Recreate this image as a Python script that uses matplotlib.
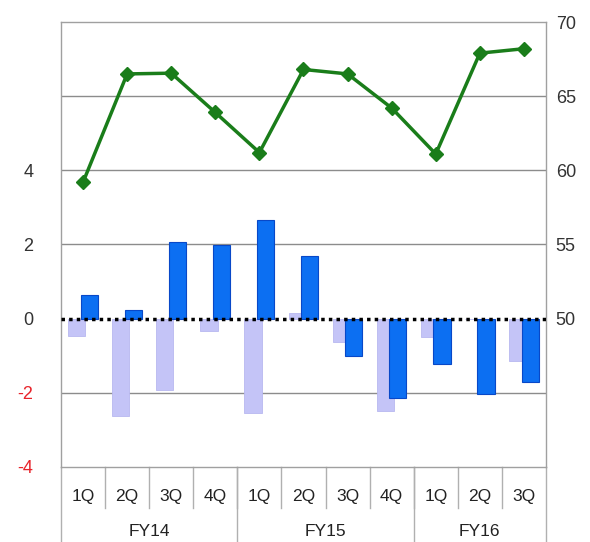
import matplotlib
matplotlib.use("Agg")
import matplotlib.pyplot as plt
import matplotlib.transforms as mtransforms
import numpy as np

plt.rcParams['font.family'] = ['Liberation Sans', 'DejaVu Sans']

quarters = ["1Q", "2Q", "3Q", "4Q", "1Q", "2Q", "3Q", "4Q", "1Q", "2Q", "3Q"]
years = ["FY14", "FY15", "FY16"]
year_sizes = [4, 4, 3]
light_vals = [-0.46, -2.63, -1.93, -0.34, -2.55, 0.15, -0.62, -2.49, -0.50, 0.0, -1.13]
blue_vals = [0.65, 0.24, 2.06, 1.99, 2.67, 1.69, -1.00, -2.13, -1.22, -2.04, -1.70]
line_vals = [59.2, 66.5, 66.55, 63.9, 61.2, 66.8, 66.5, 64.2, 61.1, 67.9, 68.2]
left_ticks = [-4, -2, 0, 2, 4]
right_ticks = [50, 55, 60, 65, 70]

fig = plt.figure(figsize=(5.9, 5.42), dpi=100)
ax = fig.add_axes([0.1034, 0.1384, 0.822, 0.821])
x = np.arange(len(quarters))

ax.set_xlim(-0.5, len(quarters) - 0.5)
ax.set_ylim(-4, 8)
for g in [-2, 2, 4, 6]:
    ax.axhline(g, color="#8c8c8c", lw=1.0, zorder=0)

ax.bar(x - 0.145, light_vals, width=0.39, color="#c4c4f7", edgecolor="#b8b8f0", lw=0.6, zorder=2)
ax.bar(x + 0.14, blue_vals, width=0.39, color="#0c6ff2", edgecolor="#0848c8", lw=0.8, zorder=3)
ax.axhline(0, color="black", lw=2.5, ls=(0, (1, 1.2)), zorder=4)

ax.set_yticks(left_ticks)
ax.set_yticklabels([str(t) for t in left_ticks], fontsize=13)
for lab, t in zip(ax.get_yticklabels(), left_ticks):
    lab.set_color("#e8242b" if t < 0 else "#333333")
ax.tick_params(axis="y", length=0, pad=20)

for s in ["left", "right", "top", "bottom"]:
    ax.spines[s].set_color("#a0a0a0")
    ax.spines[s].set_linewidth(1.0)

ax2 = ax.twinx()
ax2.set_ylim(40, 70)
ax2.plot(x, line_vals, color="#1a7d1a", lw=2.5, marker="D", markersize=7.5,
         markerfacecolor="#1a7d1a", markeredgecolor="#1a7d1a", zorder=5)
ax2.set_yticks(right_ticks)
ax2.set_yticklabels([str(t) for t in right_ticks], fontsize=13, color="#333333")
ax2.tick_params(axis="y", length=0, pad=7)
for s in ["left", "right", "top", "bottom"]:
    ax2.spines[s].set_visible(False)

# category axis table
ax.set_xticks(x)
ax.set_xticklabels(quarters, fontsize=12.5, color="#222222")
ax.tick_params(axis="x", length=0, pad=16)
trans = mtransforms.blended_transform_factory(ax.transData, ax.transAxes)
for i in range(1, len(quarters)):
    ax.plot([i - 0.5, i - 0.5], [0, -0.092], transform=trans, color="#b0b0b0", lw=1.0, clip_on=False)
start = 0
bounds = [-0.5]
for yname, n in zip(years, year_sizes):
    center = start + (n - 1) / 2
    ax.text(center, -0.146, yname, transform=trans, ha="center", va="center", fontsize=12.5, color="#222222")
    start += n
    bounds.append(start - 0.5)
for b in bounds:
    ax.plot([b, b], [0, -0.2], transform=trans, color="#b0b0b0", lw=1.0, clip_on=False)

fig.savefig("out.png", dpi=100)
